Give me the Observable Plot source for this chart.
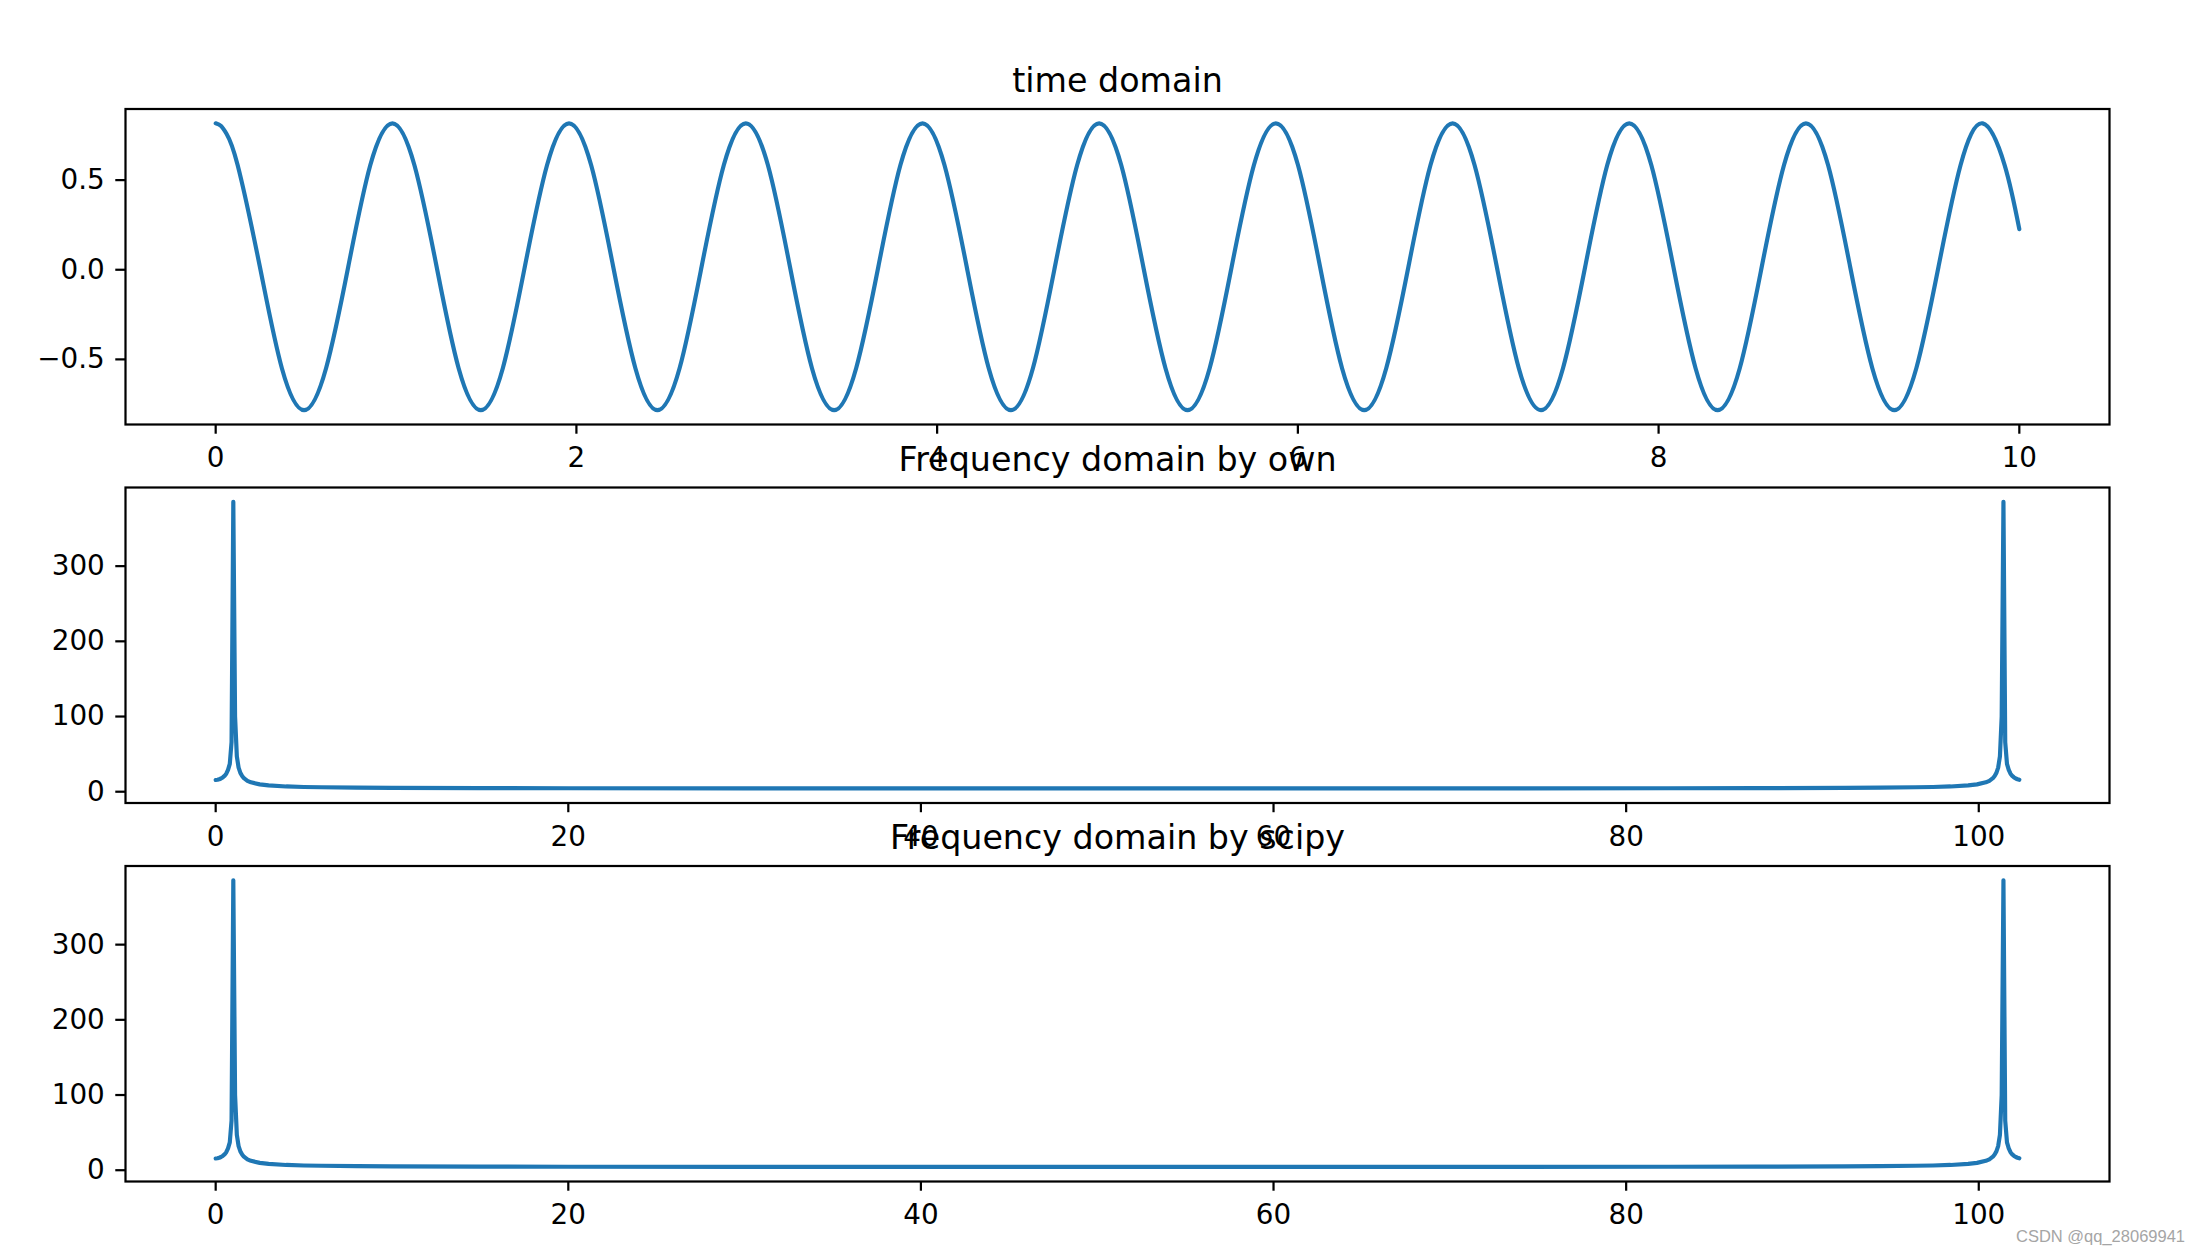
<!DOCTYPE html>
<html>
<head>
<meta charset="utf-8">
<script src="https://cdn.jsdelivr.net/npm/d3@7"></script>
<script src="https://cdn.jsdelivr.net/npm/@observablehq/plot@0.6"></script>
<style>
  html, body { margin: 0; padding: 0; background: white; overflow: hidden; }
  #wrap { position: relative; width: 2202px; height: 1254px; background: white; }
  #wrap svg { position: absolute; left: 0; top: 0; }
  #wm { position: absolute; left: 2016px; top: 1227.5px; font-family: "Liberation Sans", Arial, sans-serif;
        font-size: 16.5px; line-height: 16.5px; color: rgb(165,165,165); white-space: nowrap; }
</style>
</head>
<body>
<div id="wrap"></div>
<script>
// ---- data ----
const titles = ["time domain", "Frequency domain by own", "Frequency domain by scipy"];

// time domain samples (seconds, amplitude)
const timeT = [0, 0.03, 0.06, 0.122, 0.245, 0.367, 0.490, 0.612, 0.735, 0.857,
  0.980, 1.102, 1.225, 1.347, 1.470, 1.592, 1.714, 1.837,
  1.959, 2.082, 2.204, 2.327, 2.449, 2.572, 2.694, 2.817,
  2.939, 3.062, 3.184, 3.306, 3.429, 3.551, 3.674, 3.796,
  3.919, 4.041, 4.164, 4.286, 4.409, 4.531, 4.653, 4.776,
  4.898, 5.021, 5.143, 5.266, 5.388, 5.511, 5.633, 5.756,
  5.878, 6.001, 6.123, 6.245, 6.368, 6.490, 6.613, 6.735,
  6.858, 6.980, 7.103, 7.225, 7.348, 7.470, 7.593, 7.715,
  7.837, 7.960, 8.082, 8.205, 8.327, 8.450, 8.572, 8.695,
  8.817, 8.940, 9.062, 9.185, 9.307, 9.429, 9.552, 9.674,
  9.797, 9.919, 10.0];
const timeV = [0.8, 0.785, 0.742, 0.566, 0, -0.566, -0.8, -0.566, 0, 0.566,
  0.8, 0.566, 0, -0.566, -0.8, -0.566, 0, 0.566,
  0.8, 0.566, 0, -0.566, -0.8, -0.566, 0, 0.566,
  0.8, 0.566, 0, -0.566, -0.8, -0.566, 0, 0.566,
  0.8, 0.566, 0, -0.566, -0.8, -0.566, 0, 0.566,
  0.8, 0.566, 0, -0.566, -0.8, -0.566, 0, 0.566,
  0.8, 0.566, 0, -0.566, -0.8, -0.566, 0, 0.566,
  0.8, 0.566, 0, -0.566, -0.8, -0.566, 0, 0.566,
  0.8, 0.566, 0, -0.566, -0.8, -0.566, 0, 0.566,
  0.8, 0.566, 0, -0.566, -0.8, -0.566, 0, 0.566,
  0.8, 0.566, 0.21];

// frequency axis (Hz) and magnitudes
const freqHz = [0, 0.1, 0.2, 0.3, 0.4, 0.5, 0.6, 0.7, 0.8, 0.9, 1.0, 1.1, 1.2, 1.3, 1.4, 1.5, 1.6, 1.8, 2.0, 2.5, 3, 4, 5, 6, 8, 10, 15, 20, 30, 40,
  51.2,
  62.4, 72.4, 82.4, 87.4, 92.4, 94.4, 96.4, 97.4, 98.4, 99.4, 99.9, 100.4, 100.6, 100.8, 100.9, 101.0, 101.1, 101.2, 101.3, 101.4, 101.5, 101.6, 101.7, 101.8, 101.9, 102.0, 102.1, 102.2, 102.3];
const ownAmp = [11.6, 11.9, 12.6, 13.6, 15, 17, 20, 25, 33, 62, 381.5, 96, 43, 28, 21, 17, 14, 10.5, 8.5, 5.8, 4.4, 3.0, 2.3, 1.9, 1.4, 1.1, 0.75, 0.58, 0.42, 0.36,
  0.34,
  0.36, 0.42, 0.58, 0.75, 1.1, 1.4, 1.9, 2.3, 3.0, 4.4, 5.8, 8.5, 10.5, 14, 17, 21, 28, 43, 96, 381.5, 62, 33, 25, 20, 17, 15, 13.6, 12.6, 11.9];
const scipyAmp = [11.6, 11.9, 12.6, 13.6, 15, 17, 20, 25, 33, 62, 381.5, 96, 43, 28, 21, 17, 14, 10.5, 8.5, 5.8, 4.4, 3.0, 2.3, 1.9, 1.4, 1.1, 0.75, 0.58, 0.42, 0.36,
  0.34,
  0.36, 0.42, 0.58, 0.75, 1.1, 1.4, 1.9, 2.3, 3.0, 4.4, 5.8, 8.5, 10.5, 14, 17, 21, 28, 43, 96, 381.5, 62, 33, 25, 20, 17, 15, 13.6, 12.6, 11.9];

const timeTicksX = [0, 2, 4, 6, 8, 10];
const timeTicksY = [-0.5, 0, 0.5];
const freqTicksX = [0, 20, 40, 60, 80, 100];
const freqTicksY = [0, 100, 200, 300];

// ---- drawing ----
const W = 2202, H = 1254;
const LEFT = 125, RIGHT = 2109;
const BLUE = "#1f77b4";
const fmt1 = d => (d < 0 ? "\u2212" + Math.abs(d).toFixed(1) : d.toFixed(1));
const fmt0 = d => String(d);

function panel({top, bottom, xDomain, yDomain, xTicks, yTicks, xFmt, yFmt, rows, curve, title}) {
  return Plot.plot({
    width: W, height: H,
    marginLeft: LEFT, marginRight: W - RIGHT, marginTop: top, marginBottom: H - bottom,
    x: {domain: xDomain, label: null},
    y: {domain: yDomain, label: null},
    style: {background: "transparent", fontFamily: "DejaVu Sans", color: "black", overflow: "visible"},
    marks: [
      Plot.axisX({ticks: xTicks, tickFormat: xFmt, tickSize: 9.72, tickPadding: 13.5, strokeWidth: 2.22,
                  fontSize: 27.8, label: null}),
      Plot.axisY({ticks: yTicks, tickFormat: yFmt, tickSize: 9.72, tickPadding: 11, strokeWidth: 2.22,
                  fontSize: 27.8, dy: 3, label: null}),
      Plot.line(rows, {x: "x", y: "y", stroke: BLUE, strokeWidth: 4.17, curve}),
      Plot.frame({stroke: "black", strokeWidth: 2.22}),
      Plot.text([title], {text: d => d, frameAnchor: "top", dy: -16.7, lineAnchor: "bottom",
                          fontSize: 33.3, fill: "black"})
    ]
  });
}

const wrap = document.getElementById("wrap");
const timeRows = timeT.map((t, i) => ({x: t, y: timeV[i]}));
const ownRows = freqHz.map((f, i) => ({x: f, y: ownAmp[i]}));
const scipyRows = freqHz.map((f, i) => ({x: f, y: scipyAmp[i]}));

wrap.appendChild(panel({top: 108.5, bottom: 424, xDomain: [-0.5, 10.5], yDomain: [-0.88, 0.88],
  xTicks: timeTicksX, yTicks: timeTicksY, xFmt: fmt0, yFmt: fmt1, rows: timeRows, curve: "natural", title: titles[0]}));
wrap.appendChild(panel({top: 487, bottom: 802.5, xDomain: [-5.115, 107.415], yDomain: [-19, 400.6],
  xTicks: freqTicksX, yTicks: freqTicksY, xFmt: fmt0, yFmt: fmt0, rows: ownRows, curve: "linear", title: titles[1]}));
wrap.appendChild(panel({top: 865.5, bottom: 1181, xDomain: [-5.115, 107.415], yDomain: [-19, 400.6],
  xTicks: freqTicksX, yTicks: freqTicksY, xFmt: fmt0, yFmt: fmt0, rows: scipyRows, curve: "linear", title: titles[2]}));

const wm = document.createElement("div");
wm.id = "wm";
wm.textContent = "CSDN @qq_28069941";
wrap.appendChild(wm);
</script>
</body>
</html>
